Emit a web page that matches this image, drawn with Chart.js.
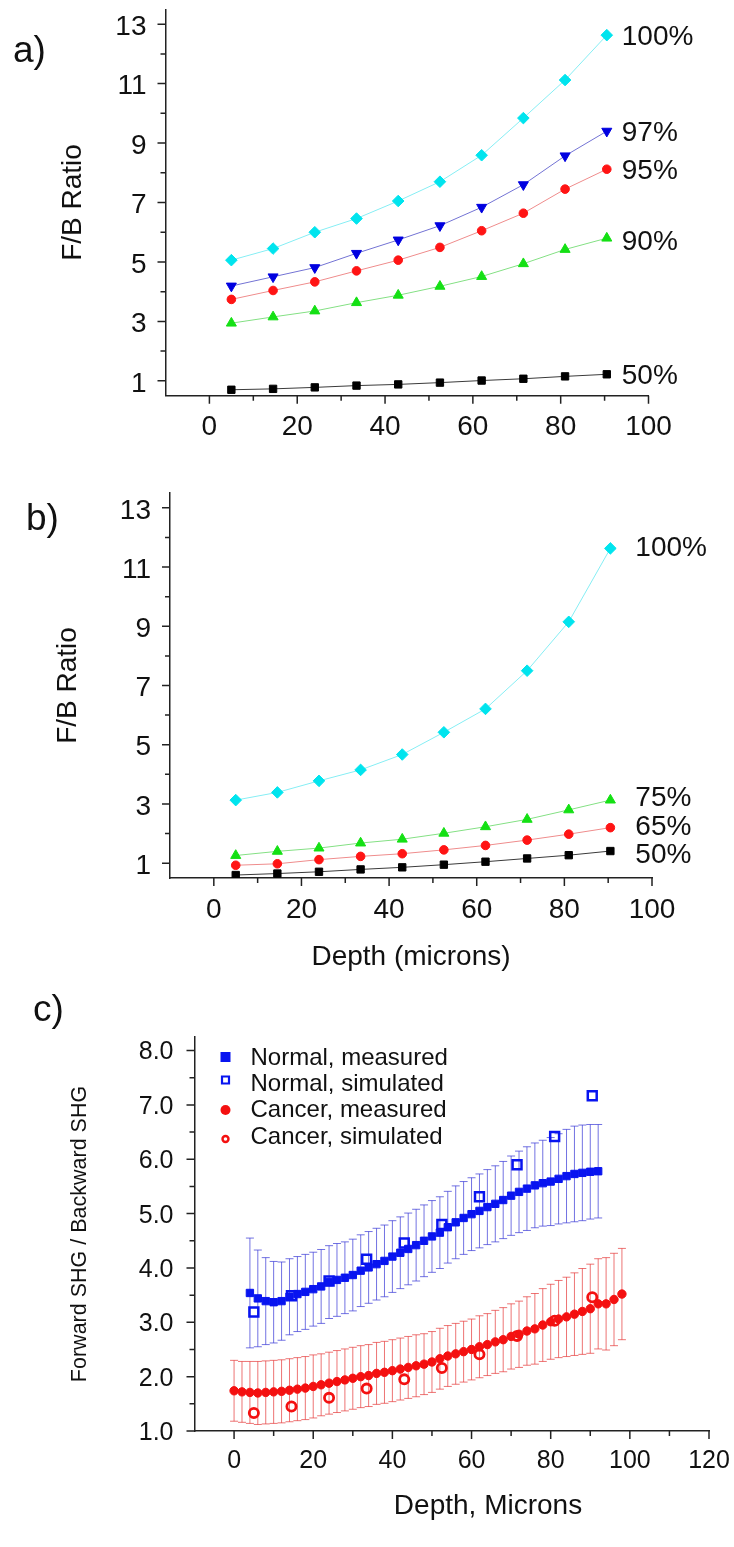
<!DOCTYPE html>
<html>
<head>
<meta charset="utf-8">
<script src="https://cdn.jsdelivr.net/npm/chart.js@4.4.1/dist/chart.umd.min.js"></script>
<style>
  body { margin: 0; background: #fff; }
  #page { position: relative; width: 734px; height: 1547px; font-family: 'Liberation Sans', Arial, sans-serif; color: #111; }
  canvas { position: absolute; left: 0; }
  .tag { position: absolute; line-height: 1; white-space: nowrap; transform: translateY(-50%); }
</style>
</head>
<body>
<div id="page">
  <canvas id="chartA" width="734" height="470" style="top:0"></canvas>
  <canvas id="chartB" width="734" height="520" style="top:470px"></canvas>
  <canvas id="chartC" width="734" height="557" style="top:990px"></canvas>
  <div class="tag" style="left:13px;top:49px;font-size:37px">a)</div>
  <div class="tag" style="left:26px;top:517px;font-size:37px">b)</div>
  <div class="tag" style="left:33px;top:1008px;font-size:37px">c)</div>
  <div class="tag" style="left:488px;top:1505px;font-size:28px;transform:translate(-50%,-50%)">Depth, Microns</div>
</div>
<script>
// depth positions (microns) shared by panels a, b and the simulated points of c
const depth = [5, 14.5, 24, 33.5, 43, 52.5, 62, 71.5, 81, 90.5];

// panel a: F/B ratio by percentage
const a100 = [5.06, 5.45, 6.0, 6.46, 7.05, 7.7, 8.59, 9.84, 11.12, 12.63];
const a97 = [4.19, 4.5, 4.81, 5.29, 5.74, 6.22, 6.84, 7.6, 8.57, 9.4];
const a95 = [3.74, 4.04, 4.33, 4.7, 5.06, 5.49, 6.05, 6.64, 7.45, 8.12];
const a90 = [2.94, 3.15, 3.35, 3.63, 3.88, 4.18, 4.51, 4.94, 5.42, 5.8];
const a50 = [0.7, 0.73, 0.78, 0.84, 0.88, 0.94, 1.01, 1.07, 1.15, 1.22];

// panel b
const b100 = [3.13, 3.39, 3.78, 4.15, 4.67, 5.42, 6.21, 7.5, 9.15, 11.63];
const b75 = [1.26, 1.4, 1.51, 1.68, 1.81, 2.01, 2.23, 2.48, 2.8, 3.13];
const b65 = [0.93, 0.98, 1.12, 1.23, 1.32, 1.45, 1.6, 1.78, 1.98, 2.2];
const b50 = [0.6, 0.65, 0.71, 0.79, 0.86, 0.95, 1.05, 1.16, 1.27, 1.41];

// panel c: measured forward/backward SHG with error bars
const depthNormal = [4, 6, 8, 10, 12, 14, 16, 18, 20, 22, 24, 26, 28, 30, 32, 34, 36, 38, 40, 42,
  44, 46, 48, 50, 52, 54, 56, 58, 60, 62, 64, 66, 68, 70, 72, 74, 76, 78, 80, 82, 84, 86, 88, 90, 92];
const normalMeasured = [3.54, 3.44, 3.39, 3.37, 3.39, 3.47, 3.52, 3.56, 3.61, 3.66,
  3.74, 3.78, 3.82, 3.87, 3.95, 4.01, 4.07, 4.13, 4.21, 4.28,
  4.35, 4.42, 4.5, 4.58, 4.65, 4.75, 4.84, 4.92, 4.99, 5.05,
  5.12, 5.18, 5.25, 5.33, 5.4, 5.46, 5.52, 5.56, 5.59, 5.64,
  5.69, 5.73, 5.75, 5.77, 5.78];
const normalErr = [1.01, 0.89, 0.8, 0.75, 0.72, 0.7, 0.69, 0.69, 0.68, 0.68,
  0.67, 0.67, 0.66, 0.66, 0.66, 0.66, 0.66, 0.66, 0.66, 0.66,
  0.66, 0.66, 0.66, 0.66, 0.66, 0.66, 0.67, 0.67, 0.67, 0.68,
  0.69, 0.7, 0.71, 0.73, 0.75, 0.77, 0.78, 0.79, 0.81, 0.83,
  0.86, 0.88, 0.88, 0.87, 0.86];

const depthCancer = [0, 2, 4, 6, 8, 10, 12, 14, 16, 18, 20, 22, 24, 26, 28, 30, 32, 34, 36, 38,
  40, 42, 44, 46, 48, 50, 52, 54, 56, 58, 60, 62, 64, 66, 68, 70, 72, 74, 76, 78,
  80, 82, 84, 86, 88, 90, 92, 94, 96, 98];
const cancerMeasured = [1.74, 1.72, 1.71, 1.7, 1.71, 1.72, 1.73, 1.75, 1.77, 1.79,
  1.82, 1.85, 1.88, 1.91, 1.94, 1.97, 2.0, 2.02, 2.06, 2.08,
  2.11, 2.14, 2.17, 2.2, 2.23, 2.27, 2.33, 2.38, 2.42, 2.46,
  2.5, 2.55, 2.59, 2.64, 2.68, 2.74, 2.78, 2.84, 2.88, 2.95,
  3.01, 3.06, 3.1, 3.15, 3.2, 3.25, 3.34, 3.34, 3.42, 3.52];
const cancerErr = [0.56, 0.56, 0.57, 0.58, 0.58, 0.58, 0.58, 0.58, 0.58, 0.58,
  0.58, 0.57, 0.57, 0.57, 0.57, 0.57, 0.57, 0.57, 0.57, 0.57,
  0.57, 0.57, 0.57, 0.57, 0.56, 0.56, 0.56, 0.56, 0.56, 0.56,
  0.56, 0.57, 0.57, 0.58, 0.59, 0.6, 0.61, 0.63, 0.65, 0.67,
  0.69, 0.71, 0.73, 0.76, 0.79, 0.82, 0.83, 0.85, 0.85, 0.84];

const normalSimulated = [3.19, 3.49, 3.76, 4.16, 4.46, 4.8, 5.31, 5.9, 6.42, 7.17];
const cancerSimulated = [1.33, 1.45, 1.61, 1.78, 1.95, 2.16, 2.41, 2.75, 3.03, 3.46];

// axis ticks
const xTicksAB = [0, 20, 40, 60, 80, 100];
const xMinorAB = [10, 30, 50, 70, 90];
const yTicksAB = [1, 3, 5, 7, 9, 11, 13];
const yMinorAB = [2, 4, 6, 8, 10, 12];
const xTicksC = [0, 20, 40, 60, 80, 100, 120];
const xMinorC = [10, 30, 50, 70, 90, 110];
const yTicksC = [1, 2, 3, 4, 5, 6, 7, 8];
const yMinorC = [1.5, 2.5, 3.5, 4.5, 5.5, 6.5, 7.5];

const FONT = "'Liberation Sans', Arial, Helvetica, sans-serif";
Chart.defaults.font.family = FONT;
Chart.defaults.color = '#111';

const pts = (xs, ys) => xs.map((x, i) => ({ x, y: ys[i] }));

// major/minor tick marks drawn outward from both axes
const tickMarks = {
  id: 'tickMarks',
  afterDraw(chart, args, opts) {
    const { ctx, chartArea, scales: { x, y } } = chart;
    const mark = (list, len, horiz) => {
      list.forEach((v) => {
        if (horiz) {
          const px = x.getPixelForValue(v);
          ctx.moveTo(px, chartArea.bottom);
          ctx.lineTo(px, chartArea.bottom + len);
        } else {
          const py = y.getPixelForValue(v);
          ctx.moveTo(chartArea.left, py);
          ctx.lineTo(chartArea.left - len, py);
        }
      });
    };
    ctx.save();
    ctx.strokeStyle = '#222';
    ctx.lineWidth = 1.5;
    ctx.beginPath();
    mark(opts.xMajor, 8, true);
    mark(opts.xMinor, 5, true);
    mark(opts.yMajor, 8, false);
    mark(opts.yMinor, 5, false);
    ctx.stroke();
    ctx.restore();
  },
};

// percentage tag next to the last point of each curve
const seriesTags = {
  id: 'seriesTags',
  afterDatasetsDraw(chart, args, opts) {
    const ctx = chart.ctx;
    ctx.save();
    ctx.font = '28px ' + FONT;
    ctx.fillStyle = '#111';
    ctx.textBaseline = 'middle';
    chart.data.datasets.forEach((ds, i) => {
      const pts = chart.getDatasetMeta(i).data;
      const last = pts[pts.length - 1];
      ctx.fillText(ds.label, last.x + opts.dx, last.y + opts.dy + (ds.tagShift || 0));
    });
    ctx.restore();
  },
};

const errorBars = {
  id: 'errorBars',
  beforeDatasetsDraw(chart, args, opts) {
    const { ctx, scales: { x, y } } = chart;
    ctx.save();
    ctx.lineWidth = 1;
    opts.sets.forEach((set) => {
      ctx.strokeStyle = set.color;
      ctx.beginPath();
      set.xs.forEach((xv, i) => {
        const px = x.getPixelForValue(xv);
        const top = y.getPixelForValue(set.ys[i] + set.err[i]);
        const bot = y.getPixelForValue(set.ys[i] - set.err[i]);
        ctx.moveTo(px, top);
        ctx.lineTo(px, bot);
        ctx.moveTo(px - 4, top);
        ctx.lineTo(px + 4, top);
        ctx.moveTo(px - 4, bot);
        ctx.lineTo(px + 4, bot);
      });
      ctx.stroke();
    });
    ctx.restore();
  },
};

const keyBox = {
  id: 'keyBox',
  afterDraw(chart, args, opts) {
    const { ctx, chartArea } = chart;
    ctx.save();
    ctx.font = '24px ' + FONT;
    ctx.textBaseline = 'middle';
    opts.items.forEach((it) => {
      const mx = chartArea.left + 31;
      const my = chartArea.top + it.markY;
      ctx.fillStyle = it.fill;
      ctx.strokeStyle = it.color;
      ctx.lineWidth = it.width;
      ctx.beginPath();
      if (it.shape === 'square') {
        ctx.rect(mx - it.size, my - it.size, it.size * 2, it.size * 2);
      } else {
        ctx.arc(mx, my, it.size, 0, Math.PI * 2);
      }
      ctx.fill();
      if (it.width) ctx.stroke();
      ctx.fillStyle = '#111';
      ctx.fillText(it.text, chartArea.left + 56, chartArea.top + it.textY);
    });
    ctx.restore();
  },
};

const curve = (label, ys, color, lineColor, style, radius, rotation = 0) => ({
  label,
  data: pts(depth, ys),
  showLine: true,
  borderColor: lineColor,
  borderWidth: 1,
  pointStyle: style,
  pointRadius: radius,
  pointRotation: rotation,
  pointBackgroundColor: color,
  pointBorderColor: color,
  pointBorderWidth: 1,
});

const axes = (p) => ({
  x: {
    type: 'linear',
    min: p.xMin,
    max: p.xMax,
    afterBuildTicks: (s) => { s.ticks = p.xTicks.map((v) => ({ value: v })); },
    afterFit: (s) => { s.height = p.xHeight; s.paddingLeft = 0; s.paddingRight = 0; },
    grid: { display: false, drawTicks: false },
    border: { display: true, color: '#222', width: 1.5 },
    ticks: { font: { size: p.tickSize }, padding: p.xPad, maxRotation: 0, autoSkip: false, callback: (v) => String(v) },
    title: p.xTitle
      ? { display: true, text: p.xTitle, font: { size: 28 }, padding: { top: 0, bottom: p.xTitlePad } }
      : { display: false },
  },
  y: {
    type: 'linear',
    min: p.yMin,
    max: p.yMax,
    afterBuildTicks: (s) => { s.ticks = p.yTicks.map((v) => ({ value: v })); },
    afterFit: (s) => { s.width = p.yWidth; s.paddingTop = 0; s.paddingBottom = 0; },
    grid: { display: false, drawTicks: false },
    border: { display: true, color: '#222', width: 1.5 },
    ticks: { font: { size: p.tickSize }, padding: p.yPad, labelOffset: p.yLabelShift, autoSkip: false, callback: p.yFormat },
    title: { display: true, text: p.yTitle, font: { size: p.yTitleSize }, padding: { top: p.yTitlePad, bottom: 0 } },
  },
});

const base = (pad) => ({
  responsive: false,
  animation: false,
  devicePixelRatio: 1,
  layout: { padding: { left: 0, top: pad.top, right: pad.right, bottom: 0 } },
});

const CYAN = '#00e4ee', CYAN_LINE = '#86eef4';
const BLUE = '#0000e0', BLUE_LINE = '#7373d4';
const RED = '#ff1414', RED_LINE = '#ef8c8c';
const GREEN = '#14e014', GREEN_LINE = '#84e084';
const BLACK = '#000000', BLACK_LINE = '#3a3a3a';

new Chart(document.getElementById('chartA'), {
  type: 'scatter',
  data: {
    datasets: [
      curve('100%', a100, CYAN, CYAN_LINE, 'rectRot', 5.8),
      curve('97%', a97, BLUE, BLUE_LINE, 'triangle', 5.8, 180),
      curve('95%', a95, RED, RED_LINE, 'circle', 4.3),
      { ...curve('90%', a90, GREEN, GREEN_LINE, 'triangle', 5.8), tagShift: 2 },
      curve('50%', a50, BLACK, BLACK_LINE, 'rect', 5.2),
    ],
  },
  options: {
    ...base({ top: 9.3, right: 85.5 }),
    plugins: {
      legend: { display: false },
      tooltip: { enabled: false },
      tickMarks: { xMajor: xTicksAB, xMinor: xMinorAB, yMajor: yTicksAB, yMinor: yMinorAB },
      seriesTags: { dx: 15, dy: 2 },
    },
    scales: axes({
      xMin: -10, xMax: 100, xTicks: xTicksAB, xHeight: 74.3, xPad: 15,
      yMin: 0.5, yMax: 13.5, yTicks: yTicksAB, yWidth: 165.5, yPad: 19, yLabelShift: 3,
      tickSize: 28, yTitle: 'F/B Ratio', yTitleSize: 28, yTitlePad: 56, yFormat: (v) => String(v),
    }),
  },
  plugins: [tickMarks, seriesTags],
});

new Chart(document.getElementById('chartB'), {
  type: 'scatter',
  data: {
    datasets: [
      curve('100%', b100, CYAN, CYAN_LINE, 'rectRot', 5.8),
      { ...curve('75%', b75, GREEN, GREEN_LINE, 'triangle', 5.8), tagShift: -2 },
      curve('65%', b65, RED, RED_LINE, 'circle', 4.3),
      { ...curve('50%', b50, BLACK, BLACK_LINE, 'rect', 5.2), tagShift: 4 },
    ],
  },
  options: {
    ...base({ top: 23, right: 82 }),
    plugins: {
      legend: { display: false },
      tooltip: { enabled: false },
      tickMarks: { xMajor: xTicksAB, xMinor: xMinorAB, yMajor: yTicksAB, yMinor: yMinorAB },
      seriesTags: { dx: 25, dy: 0 },
    },
    scales: axes({
      xMin: -10, xMax: 100, xTicks: xTicksAB, xHeight: 112, xPad: 15,
      xTitle: 'Depth (microns)', xTitlePad: 16,
      yMin: 0.5, yMax: 13.5, yTicks: yTicksAB, yWidth: 170, yPad: 19, yLabelShift: 3,
      tickSize: 28, yTitle: 'F/B Ratio', yTitleSize: 28, yTitlePad: 51, yFormat: (v) => String(v),
    }),
  },
  plugins: [tickMarks, seriesTags],
});

const C_BLUE = '#0814f0';
const C_RED = '#f41010';

new Chart(document.getElementById('chartC'), {
  type: 'scatter',
  data: {
    datasets: [
      {
        label: 'Normal, measured',
        data: pts(depthNormal, normalMeasured),
        pointStyle: 'rect', pointRadius: 5.2,
        pointBackgroundColor: C_BLUE, pointBorderColor: C_BLUE, pointBorderWidth: 1,
      },
      {
        label: 'Normal, simulated',
        data: pts(depth, normalSimulated),
        pointStyle: 'rect', pointRadius: 6.3,
        pointBackgroundColor: 'rgba(255,255,255,0)', pointBorderColor: C_BLUE, pointBorderWidth: 2.5,
      },
      {
        label: 'Cancer, measured',
        data: pts(depthCancer, cancerMeasured),
        pointStyle: 'circle', pointRadius: 4.2,
        pointBackgroundColor: C_RED, pointBorderColor: C_RED, pointBorderWidth: 1,
      },
      {
        label: 'Cancer, simulated',
        data: pts(depth, cancerSimulated),
        pointStyle: 'circle', pointRadius: 4.6,
        pointBackgroundColor: 'rgba(255,255,255,0)', pointBorderColor: C_RED, pointBorderWidth: 2.8,
      },
    ],
  },
  options: {
    ...base({ top: 47, right: 25 }),
    plugins: {
      legend: { display: false },
      tooltip: { enabled: false },
      tickMarks: { xMajor: xTicksC, xMinor: xMinorC, yMajor: yTicksC, yMinor: yMinorC },
      errorBars: {
        sets: [
          { xs: depthNormal, ys: normalMeasured, err: normalErr, color: 'rgba(60,60,215,0.72)' },
          { xs: depthCancer, ys: cancerMeasured, err: cancerErr, color: 'rgba(228,50,50,0.68)' },
        ],
      },
      keyBox: {
        items: [
          { text: 'Normal, measured', shape: 'square', size: 5, fill: C_BLUE, color: C_BLUE, width: 0, markY: 20, textY: 21 },
          { text: 'Normal, simulated', shape: 'square', size: 3.5, fill: '#fff', color: C_BLUE, width: 2.2, markY: 43, textY: 47 },
          { text: 'Cancer, measured', shape: 'circle', size: 5, fill: C_RED, color: C_RED, width: 0, markY: 73, textY: 73 },
          { text: 'Cancer, simulated', shape: 'circle', size: 3, fill: '#fff', color: C_RED, width: 2.4, markY: 102, textY: 100 },
        ],
      },
    },
    scales: axes({
      xMin: -10, xMax: 120, xTicks: xTicksC, xHeight: 116, xPad: 15.5,
      yMin: 1, yMax: 8.25, yTicks: yTicksC, yWidth: 194.5, yPad: 21, yLabelShift: 2,
      tickSize: 25, yTitle: 'Forward SHG / Backward SHG', yTitleSize: 21.5, yTitlePad: 67,
      yFormat: (v) => v.toFixed(1),
    }),
  },
  plugins: [tickMarks, errorBars, keyBox],
});
</script>
</body>
</html>
